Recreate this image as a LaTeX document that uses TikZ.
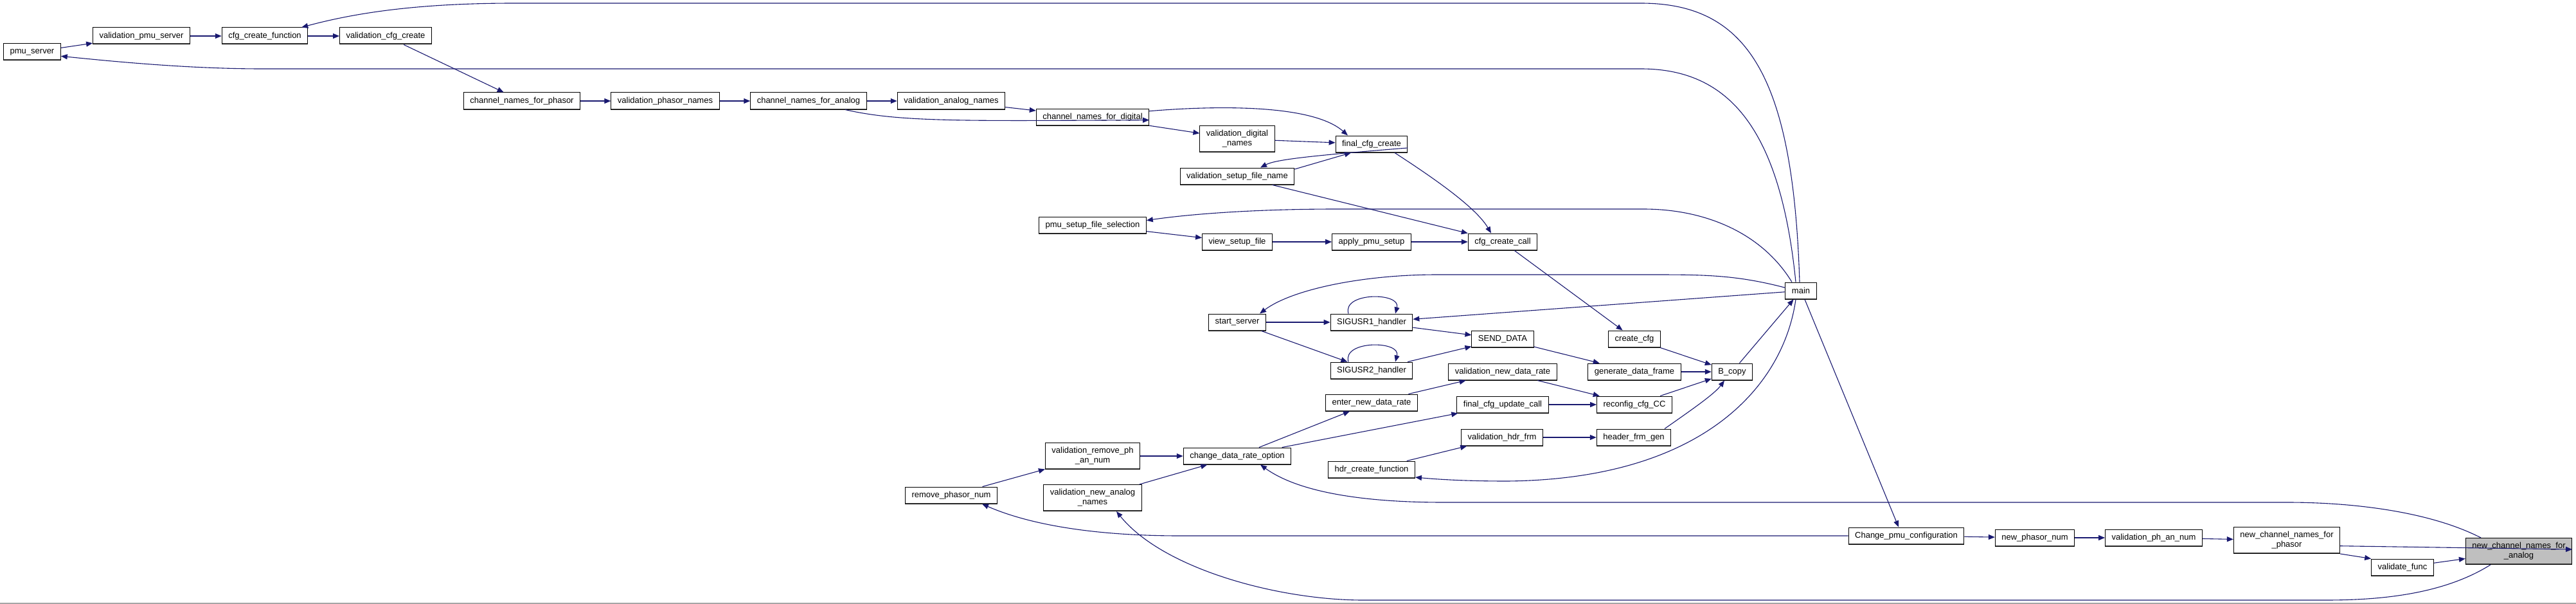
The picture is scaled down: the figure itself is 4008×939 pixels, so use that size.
\documentclass[tikz,border=0pt]{standalone}
\usepackage{fontspec}
\setmainfont{Liberation Sans}
\usepackage{xcolor}
\usetikzlibrary{arrows.meta, calc}
\definecolor{edgeblue}{HTML}{191970}
\definecolor{focusgray}{HTML}{BFBFBF}

\begin{document}
\begin{tikzpicture}[x=1pt, y=-1pt,
  fn/.style={draw=black, line width=1pt, fill=white, minimum height=26pt,
    inner xsep=10pt, inner ysep=2pt, font=\fontsize{13}{15}\selectfont,
    path picture={\draw[black!70, line width=3pt]
      (path picture bounding box.south west) -- (path picture bounding box.south east);}},
  fn2/.style={fn, align=center, minimum height=41pt},
  call/.style={draw=edgeblue, line width=1.1pt, -{Triangle[length=10pt, width=8pt]}}]
  \useasboundingbox (0,0) rectangle (4008,939);

  % upper chain
  \node[fn] (ps)  at (50,81)   {pmu\_server};
  \node[fn] (vps) at (220,56)  {validation\_pmu\_server};
  \node[fn] (ccf) at (412,56)  {cfg\_create\_function};
  \node[fn] (vcc) at (600,56)  {validation\_cfg\_create};
  \node[fn] (cnp) at (812,157) {channel\_names\_for\_phasor};
  \node[fn] (vpn) at (1035,157) {validation\_phasor\_names};
  \node[fn] (cna) at (1258,157) {channel\_names\_for\_analog};
  \node[fn] (van) at (1480,157) {validation\_analog\_names};
  \node[fn] (cnd) at (1700,182) {channel\_names\_for\_digital};
  \node[fn2] (vdn) at (1925,216) {validation\_digital\\\_names};
  \node[fn] (fcc) at (2134,224) {final\_cfg\_create};
  \node[fn] (vsf) at (1925,274) {validation\_setup\_file\_name};
  \node[fn] (psf) at (1700,350) {pmu\_setup\_file\_selection};
  \node[fn] (vsu) at (1925,376) {view\_setup\_file};
  \node[fn] (aps) at (2134,376) {apply\_pmu\_setup};
  \node[fn] (ccc) at (2338,376) {cfg\_create\_call};

  % middle block
  \node[fn] (main) at (2802,452) {main};
  \node[fn] (ss)   at (1925,501) {start\_server};
  \node[fn] (s1)   at (2134,501) {SIGUSR1\_handler};
  \node[fn] (sd)   at (2338,527) {SEND\_DATA};
  \node[fn] (cc)   at (2543,527) {create\_cfg};
  \node[fn] (s2)   at (2134,576) {SIGUSR2\_handler};
  \node[fn] (vndr) at (2338,578) {validation\_new\_data\_rate};
  \node[fn] (gdf)  at (2543,578) {generate\_data\_frame};
  \node[fn] (bc)   at (2695,578) {B\_copy};
  \node[fn] (endr) at (2134,626) {enter\_new\_data\_rate};
  \node[fn] (fcu)  at (2338,629) {final\_cfg\_update\_call};
  \node[fn] (rcc)  at (2543,629) {reconfig\_cfg\_CC};
  \node[fn] (vhf)  at (2337,680) {validation\_hdr\_frm};
  \node[fn] (hfg)  at (2542,680) {header\_frm\_gen};
  \node[fn] (hcf)  at (2134,730) {hdr\_create\_function};
  \node[fn] (cdr)  at (1925,709) {change\_data\_rate\_option};
  \node[fn2] (vrp) at (1700,709) {validation\_remove\_ph\\\_an\_num};
  \node[fn2] (vna) at (1700,774) {validation\_new\_analog\\\_names};
  \node[fn] (rpn)  at (1480,770) {remove\_phasor\_num};

  % lower chain
  \node[fn] (cpc) at (2966,833) {Change\_pmu\_configuration};
  \node[fn] (npn) at (3166,836) {new\_phasor\_num};
  \node[fn] (vpa) at (3351,836) {validation\_ph\_an\_num};
  \node[fn2] (ncp) at (3558,840) {new\_channel\_names\_for\\\_phasor};
  \node[fn] (vf)  at (3738,882) {validate\_func};
  \node[fn2, fill=focusgray] (nca) at (3919,857) {new\_channel\_names\_for\\\_analog};

  % edges, upper chain
  \draw[call] (ps) -- (vps);
  \draw[call] (vps) -- (ccf);
  \draw[call] (ccf) -- (vcc);
  \draw[call] (vcc) -- (cnp);
  \draw[call] (cnp) -- (vpn);
  \draw[call] (vpn) -- (cna);
  \draw[call] (cna) -- (van);
  \draw[call] (van) -- (cnd);
  \draw[call] ($(cna.south)+(57,0)$) .. controls (1400,190) and (1500,188) .. (cnd.-3);
  \draw[call] (cnd.6) .. controls (1880,165) and (2040,160) .. ($(fcc.north)+(-37,0)$);
  \draw[call] (cnd) -- (vdn);
  \draw[call] (vdn) -- (fcc);
  \draw[call] (fcc.-6) .. controls (2040,242) and (1985,248) .. ($(vsf.north)+(36,0)$);
  \draw[call] (vsf.7) -- ($(fcc.south)+(-32,0)$);
  \draw[call] (vsf) -- (ccc);
  \draw[call] ($(fcc.south)+(36,0)$) .. controls (2220,270) and (2295,320) .. ($(ccc.north)+(-18,0)$);
  \draw[call] (psf) -- (vsu);
  \draw[call] (vsu) -- (aps);
  \draw[call] (aps) -- (ccc);
  \draw[call] (ccc) -- (cc);

  % edges out of main
  \draw[call] ($(main.north)+(-2,0)$) .. controls (2790,120) and (2720,5) .. (2553,5)
    -- (800,5) .. controls (660,5) and (560,18) .. ($(ccf.north east)+(-10,0)$);
  \draw[call] ($(main.north)+(-8,0)$) .. controls (2770,200) and (2690,107) .. (2553,107)
    -- (408,107) .. controls (300,107) and (190,97) .. (ps.-8);
  \draw[call] ($(main.north)+(-14,0)$) .. controls (2740,360) and (2650,325) .. (2557,325)
    -- (2080,325) .. controls (1950,325) and (1850,333) .. (psf.5);
  \draw[call] (main.169) .. controls (2700,427) and (2650,427) .. (2565,427)
    -- (2236,427) .. controls (2120,427) and (2010,450) .. ($(ss.north)+(35,0)$);
  \draw[call] (main) -- (s1);
  \draw[call] ($(main.south)+(-8,0)$) .. controls (2775,600) and (2650,745) .. (2345,748)
    .. controls (2290,748) and (2245,746) .. (hcf.-10);
  \draw[call] ($(main.south)+(6,0)$) -- ($(cpc.north)+(-12,0)$);

  % edges, middle block
  \draw[call] (ss) -- (s1);
  \draw[call] (ss) -- (s2);
  \draw[call] ($(s1.north)+(-36,0)$) .. controls (2088,454) and (2180,454) .. ($(s1.north)+(37,0)$);
  \draw[call] ($(s2.north)+(-36,0)$) .. controls (2088,529) and (2180,529) .. ($(s2.north)+(37,0)$);
  \draw[call] (s1) -- (sd);
  \draw[call] (s2) -- (sd);
  \draw[call] (sd) -- (gdf);
  \draw[call] (cc) -- (bc);
  \draw[call] (gdf) -- (bc);
  \draw[call] (bc) -- (main);
  \draw[call] (rcc) -- (bc);
  \draw[call] ($(hfg.north)+(48,0)$) .. controls (2635,635) and (2668,612) .. ($(bc.south)+(-12,0)$);
  \draw[call] (endr) -- (vndr);
  \draw[call] (vndr) -- (rcc);
  \draw[call] (fcu) -- (rcc);
  \draw[call] (vhf) -- (hfg);
  \draw[call] (hcf) -- (vhf);
  \draw[call] (cdr) -- (endr);
  \draw[call] (cdr) -- (fcu);
  \draw[call] (vrp) -- (cdr);
  \draw[call] (rpn) -- (vrp);
  \draw[call] (vna) -- (cdr);

  % edges, lower chain
  \draw[call] (cpc.west) -- (1836,833) .. controls (1700,833) and (1600,815) .. ($(rpn.south)+(48,0)$);
  \draw[call] (cpc) -- (npn);
  \draw[call] (npn) -- (vpa);
  \draw[call] (vpa) -- (ncp);
  \draw[call] (ncp.-6) -- (nca.2);
  \draw[call] (ncp.south east) -- (vf.north west);
  \draw[call] (vf) -- (nca);
  \draw[call] ($(nca.north)+(-59,0)$) .. controls (3780,795) and (3660,781) .. (3559,781)
    -- (2246,781) .. controls (2120,781) and (2020,765) .. ($(cdr.south)+(36,0)$);
  \draw[call] ($(nca.south)+(-44,0)$) .. controls (3800,925) and (3700,933) .. (3618,933)
    -- (2121,933) .. controls (1990,933) and (1810,885) .. ($(vna.south)+(37,0)$);

  % frame edge
  \draw[black!35, line width=1.5pt] (0,938) -- (4008,938);
\end{tikzpicture}
\end{document}
